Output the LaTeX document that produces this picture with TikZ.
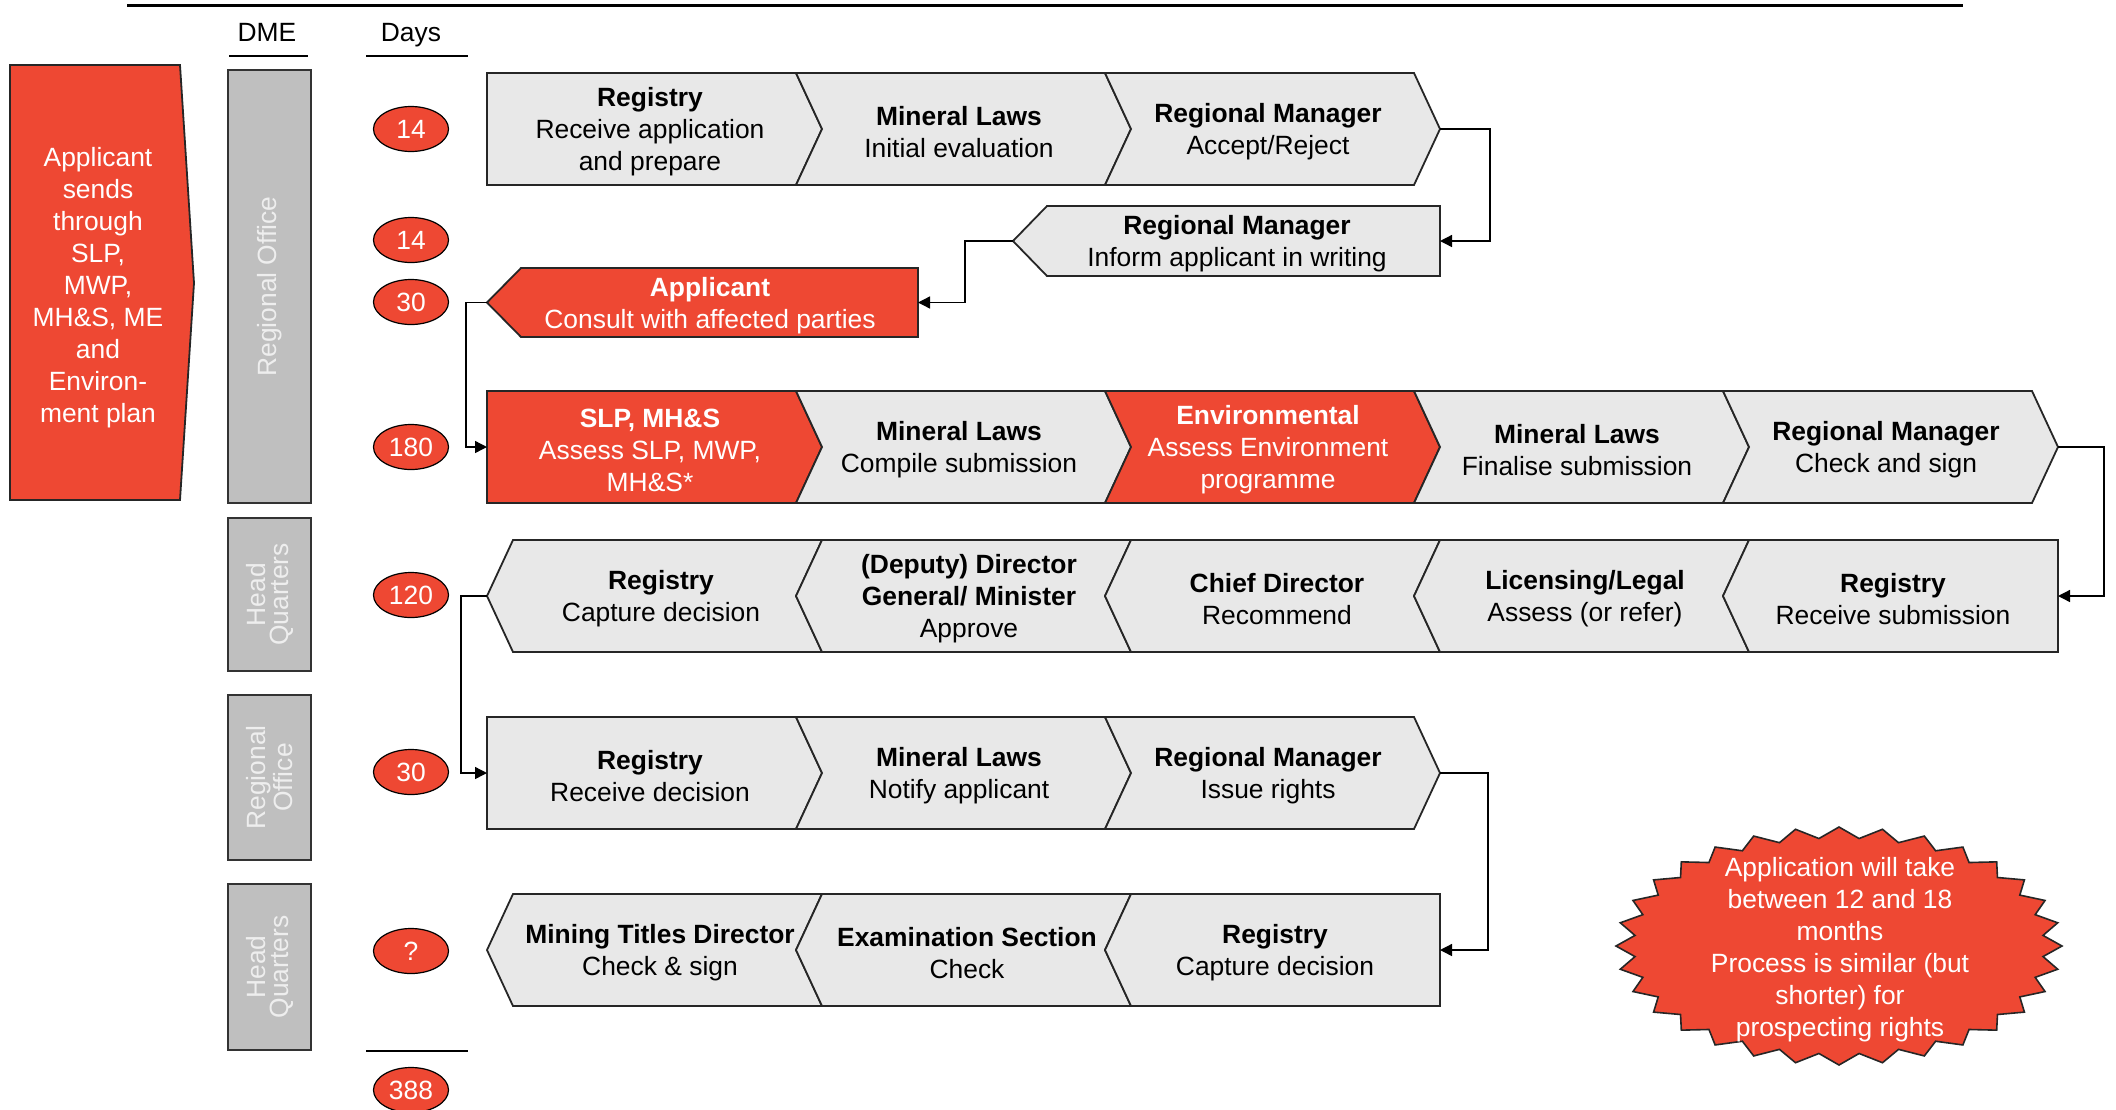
\documentclass[tikz,border=0pt]{standalone}
\usepackage{fontspec}
\setmainfont{Liberation Sans}
\usetikzlibrary{shapes.geometric,arrows.meta}
\definecolor{dmered}{HTML}{EE4833}
\definecolor{stepgrey}{HTML}{E8E8E8}
\definecolor{bargrey}{HTML}{BFBFBF}
\definecolor{bartext}{HTML}{EEEEEE}
\begin{document}
\begin{tikzpicture}[x=0.5pt,y=-0.5pt,
    txt/.style={font=\fontsize{13.2}{16}\selectfont},
    chev/.style={draw=black!85,line width=0.9pt,fill=stepgrey},
    hotchev/.style={chev,fill=dmered},
    lbl/.style={txt,align=center,inner sep=0pt,yshift=-1.5pt},
    hotlbl/.style={lbl,text=white},
    days/.style={ellipse,draw,fill=dmered,text=white,txt,inner sep=0pt,
      minimum width=37.5pt,minimum height=22.5pt,line width=0.6pt},
    dmebar/.style={draw=black!80,fill=bargrey,line width=0.9pt},
    bartxt/.style={font=\fontsize{13.2}{11.5}\selectfont,text=bartext,rotate=90,align=center},
    flow/.style={-{Triangle[length=6pt,width=6pt]},line width=0.7pt}]
  \useasboundingbox (0,0) rectangle (2116,1109);

  % headings
  \draw[line width=1.7pt] (127,5.5) -- (1963,5.5);
  \node[txt] (dme) at (267,32) {DME};
  \node[txt] (days) at (411,35) {Days};
  \draw[line width=0.8pt] (229,56) -- (308,56);
  \draw[line width=0.8pt] (366,56) -- (468,56);
  \draw[line width=0.8pt] (366,1051) -- (468,1051);

  % applicant
  \draw[hotchev] (10,65) -- (180,65) -- (194,283) -- (180,500) -- (10,500) -- cycle;
  \node[hotlbl] (app) at (98,285) {Applicant\\sends\\through\\SLP,\\MWP,\\MH\&S, ME\\and\\Environ-\\ment plan};

  % DME offices
  \draw[dmebar] (228,70) rectangle (311,503);
  \node[bartxt] (ro1) at (269.5,286.5) {Regional Office};
  \draw[dmebar] (228,518) rectangle (311,671);
  \node[bartxt] (hq1) at (269.5,594.5) {Head\\Quarters};
  \draw[dmebar] (228,695) rectangle (311,860);
  \node[bartxt] (ro2) at (269.5,777.5) {Regional\\Office};
  \draw[dmebar] (228,884) rectangle (311,1050);
  \node[bartxt] (hq2) at (269.5,967) {Head\\Quarters};

  % days
  \node[days] (d1) at (411,129) {14};
  \node[days] (d2) at (411,240) {14};
  \node[days] (d3) at (411,302) {30};
  \node[days] (d4) at (411,447) {180};
  \node[days] (d5) at (411,595) {120};
  \node[days] (d6) at (411,772) {30};
  \node[days] (d7) at (411,951) {?};
  \node[days] (d8) at (411,1090) {388};

  % row 1
  \foreach \i/\n in {0/0,1/26,2/26}
    \draw[chev] ({487+309*\i},73) -- ++(309,0) -- ++(26,56) -- ++(-26,56)
      -- ++(-309,0) -- ++(\n,-56) -- cycle;
  \node[lbl] (reg1) at (650,129) {\textbf{Registry}\\Receive application\\and prepare};
  \node[lbl] (ml1) at (959,129) {\textbf{Mineral Laws}\\Initial evaluation};
  \node[lbl] (rm1) at (1268,129) {\textbf{Regional Manager}\\Accept/Reject};

  % row 2 and 3
  \draw[chev] (1440,206) -- (1440,276) -- (1047,276) -- (1013,241) -- (1047,206) -- cycle;
  \node[lbl] (rm2) at (1237,241) {\textbf{Regional Manager}\\Inform applicant in writing};
  \draw[hotchev] (918,268) -- (918,337) -- (521,337) -- (487,302.5) -- (521,268) -- cycle;
  \node[hotlbl] (appl) at (710,302.5) {\textbf{Applicant}\\Consult with affected parties};

  % row 4
  \foreach \i/\n/\c in {0/0/dmered,1/26/stepgrey,2/26/dmered,3/26/stepgrey,4/26/stepgrey}
    \draw[chev,fill=\c] ({487+309*\i},391) -- ++(309,0) -- ++(26,56) -- ++(-26,56)
      -- ++(-309,0) -- ++(\n,-56) -- cycle;
  \node[hotlbl] (slp) at (650,447) {\textbf{SLP, MH\&S}\\Assess SLP, MWP,\\MH\&S*};
  \node[lbl] (ml4) at (959,447) {\textbf{Mineral Laws}\\Compile submission};
  \node[hotlbl] (env) at (1268,447) {\textbf{Environmental}\\Assess Environment\\programme};
  \node[lbl] (ml4b) at (1577,447) {\textbf{Mineral Laws}\\Finalise submission};
  \node[lbl] (rm4) at (1886,447) {\textbf{Regional Manager}\\Check and sign};

  % row 5
  \foreach \i/\n in {0/26,1/26,2/26,3/26,4/0}
    \draw[chev] ({487+309*\i},596) -- ++(26,-56) -- ++(309,0) -- ++(-\n,56)
      -- ++(\n,56) -- ++(-309,0) -- cycle;
  \node[lbl] (reg5) at (661,596) {\textbf{Registry}\\Capture decision};
  \node[lbl] (ddg) at (969,596) {\textbf{(Deputy) Director}\\\textbf{General/ Minister}\\Approve};
  \node[lbl] (cd) at (1277,596) {\textbf{Chief Director}\\Recommend};
  \node[lbl] (lic) at (1585,596) {\textbf{Licensing/Legal}\\Assess (or refer)};
  \node[lbl] (reg5b) at (1893,596) {\textbf{Registry}\\Receive submission};

  % row 6
  \foreach \i/\n in {0/0,1/26,2/26}
    \draw[chev] ({487+309*\i},717) -- ++(309,0) -- ++(26,56) -- ++(-26,56)
      -- ++(-309,0) -- ++(\n,-56) -- cycle;
  \node[lbl] (reg6) at (650,773) {\textbf{Registry}\\Receive decision};
  \node[lbl] (ml6) at (959,773) {\textbf{Mineral Laws}\\Notify applicant};
  \node[lbl] (rm6) at (1268,773) {\textbf{Regional Manager}\\Issue rights};

  % row 7
  \foreach \i/\n in {0/26,1/26,2/0}
    \draw[chev] ({487+309*\i},950) -- ++(26,-56) -- ++(309,0) -- ++(-\n,56)
      -- ++(\n,56) -- ++(-309,0) -- cycle;
  \node[lbl] (mtd) at (660,950) {\textbf{Mining Titles Director}\\Check \& sign};
  \node[lbl] (exam) at (967,950) {\textbf{Examination Section}\\Check};
  \node[lbl] (reg7) at (1275,950) {\textbf{Registry}\\Capture decision};

  % connectors
  \coordinate (t1) at (1440,129);
  \coordinate (e2) at (1440,241);
  \coordinate (t2) at (1013,241);
  \coordinate (e3) at (918,302.5);
  \coordinate (t3) at (487,302.5);
  \coordinate (e4) at (487,447);
  \coordinate (t4) at (2058,447);
  \coordinate (e5) at (2058,596);
  \coordinate (t5) at (487,596);
  \coordinate (e6) at (487,773);
  \coordinate (t6) at (1440,773);
  \coordinate (e7) at (1440,950);
  \draw[flow] (t1) -- ++(50,0) |- (e2);
  \draw[flow] (t2) -- ++(-48,0) |- (e3);
  \draw[flow] (t3) -- ++(-21,0) |- (e4);
  \draw[flow] (t4) -- ++(46,0) |- (e5);
  \draw[flow] (t5) -- ++(-26,0) |- (e6);
  \draw[flow] (t6) -- ++(48,0) |- (e7);

  % note
  \draw[hotchev,line width=0.8pt] (2062,946)
    \foreach \k in {0,...,31} {
      -- ({1839+205*cos(\k*11.25+5.625)},{946+108*sin(\k*11.25+5.625)})
      -- ({1839+223*cos(\k*11.25+11.25)},{946+119*sin(\k*11.25+11.25)})
    } -- cycle;
  \node[hotlbl] (note) at (1840,947) {Application will take\\between 12 and 18\\months\\Process is similar (but\\shorter) for\\prospecting rights};
\end{tikzpicture}
\end{document}
